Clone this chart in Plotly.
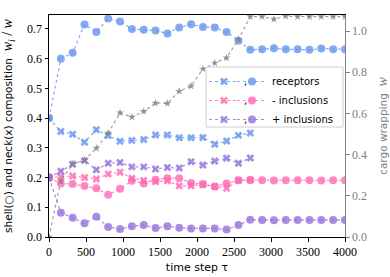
import plotly.graph_objects as go

# time steps
tau = [0, 160, 320, 480, 640, 800, 960, 1120, 1280, 1440, 1600, 1760, 1920,
       2080, 2240, 2400, 2560, 2720, 2880, 3040, 3200, 3360, 3520, 3680, 3840, 4000]
tau_neck = tau[:18]

# shell composition (circles)
rec_shell = [0.40, 0.60, 0.62, 0.715, 0.69, 0.735, 0.725, 0.70, 0.697, 0.695, 0.685, 0.705, 0.716,
             0.707, 0.705, 0.69, 0.66, 0.63, 0.632, 0.635, 0.632, 0.632, 0.63, 0.634, 0.632, 0.632]
minus_shell = [0.20, 0.18, 0.178, 0.172, 0.164, 0.142, 0.162, 0.189, 0.18, 0.193, 0.198, 0.198, 0.182,
               0.178, 0.170, 0.18, 0.191, 0.192, 0.191, 0.190, 0.191, 0.191, 0.191, 0.190, 0.191, 0.191]
plus_shell = [0.20, 0.082, 0.065, 0.046, 0.068, 0.034, 0.027, 0.036, 0.04, 0.030, 0.036, 0.031, 0.029,
              0.029, 0.029, 0.025, 0.04, 0.058, 0.057, 0.056, 0.057, 0.057, 0.057, 0.057, 0.057, 0.057]

# neck composition (crosses)
rec_neck = [0.40, 0.355, 0.346, 0.319, 0.361, 0.341, 0.322, 0.325, 0.328, 0.343, 0.343, 0.334, 0.334,
            0.335, 0.312, 0.323, 0.342, 0.350]
minus_neck = [0.20, 0.203, 0.205, 0.200, 0.195, 0.212, 0.218, 0.198, 0.19, 0.186, 0.189, 0.172, 0.172,
              0.176, 0.170, 0.164, 0.190, 0.192]
plus_neck = [0.20, 0.221, 0.245, 0.257, 0.226, 0.248, 0.251, 0.236, 0.236, 0.229, 0.234, 0.232, 0.253,
             0.242, 0.256, 0.265, 0.248, 0.266]

# cargo wrapping
wrap = [0.0, 0.273, 0.355, 0.374, 0.431, 0.505, 0.603, 0.582, 0.61, 0.65, 0.649, 0.708, 0.733,
        0.816, 0.845, 0.87, 0.96, 1.07, 1.07, 1.058, 1.072, 1.07, 1.07, 1.07, 1.07, 1.07]

names = ["receptors", "- inclusions", "+ inclusions"]
colors = ["rgba(100,149,237,0.8)", "rgba(255,105,180,0.8)", "rgba(147,112,219,0.8)"]
shells = [rec_shell, minus_shell, plus_shell]
necks = [rec_neck, minus_neck, plus_neck]

fig = go.Figure()

fig.add_trace(go.Scatter(
    x=tau, y=wrap, mode="lines+markers", yaxis="y2", showlegend=False,
    line=dict(color="rgba(128,128,128,0.75)", width=1.2, dash="dot"),
    marker=dict(symbol="star", size=6, color="rgba(128,128,128,0.8)", line=dict(width=0)),
))
for nm, c, nk in zip(names, colors, necks):
    fig.add_trace(go.Scatter(
        x=tau_neck, y=nk, mode="lines+markers", name=",", legend="legend",
        line=dict(color=c, width=1.2, dash="dot"),
        marker=dict(symbol="x", size=7, color=c, line=dict(width=0)),
    ))
for nm, c, sh in zip(names, colors, shells):
    fig.add_trace(go.Scatter(
        x=tau, y=sh, mode="lines+markers", name=nm, legend="legend2",
        line=dict(color=c, width=1.2, dash="dot"),
        marker=dict(symbol="circle", size=8, color=c, line=dict(width=0)),
    ))

serif = "Liberation Serif"
tickfont = dict(family=serif, size=12, color="black")
legfont = dict(family="DejaVu Sans", size=10, color="black")

PL, PR, PT, PB = 49, 45, 15, 40
pw = 390 - PL - PR
ph = 277 - PT - PB

def px(x):
    return (x - PL) / pw

def py(y):
    return (277 - PB - y) / ph

fig.update_layout(
    width=390, height=277,
    margin=dict(l=PL, r=PR, t=PT, b=PB),
    paper_bgcolor="white", plot_bgcolor="white",
    xaxis=dict(
        range=[0, 4000], tickmode="array", tickvals=[0, 500, 1000, 1500, 2000, 2500, 3000, 3500, 4000],
        ticks="outside", ticklen=3.5, tickcolor="black", showgrid=False, zeroline=False,
        showline=True, linecolor="black", linewidth=1, mirror=True, automargin=False,
        tickfont=tickfont,
        title=dict(text="time step τ", font=dict(family="DejaVu Sans", size=11, color="black"),
                   standoff=5),
    ),
    yaxis=dict(
        range=[0, 0.747], dtick=0.1, tickformat=".1f", automargin=False,
        ticks="outside", ticklen=3.5, tickcolor="black", showgrid=False, zeroline=False,
        showline=True, linecolor="black", linewidth=1,
        tickfont=tickfont,
        title=dict(text="shell(○) and neck(x) composition  "
                        "<span style='font-family:Liberation Serif;font-size:14px'><i>w<sub>i</sub></i> / <i>w</i></span>",
                   font=dict(family="DejaVu Sans", size=10.5, color="black")),
    ),
    yaxis2=dict(
        overlaying="y", side="right", range=[0, 1.078], dtick=0.2, tickformat=".1f", automargin=False,
        ticks="outside", ticklen=3.5, tickcolor="gray", showgrid=False, zeroline=False,
        showline=True, linecolor="gray", linewidth=1,
        tickfont=dict(family=serif, size=12, color="gray"),
        title=dict(text="cargo wrapping  <span style='font-family:Liberation Serif;font-size:14px'><i>w</i></span>",
                   font=dict(family="DejaVu Sans", size=10.5, color="gray")),
    ),
    legend=dict(x=px(204), y=py(67), xanchor="left", yanchor="top", bgcolor="rgba(0,0,0,0)",
                borderwidth=0, font=legfont, itemwidth=30, tracegroupgap=0),
    legend2=dict(x=px(232), y=py(67), xanchor="left", yanchor="top", bgcolor="rgba(0,0,0,0)",
                 borderwidth=0, font=legfont, itemwidth=30, tracegroupgap=0),
    shapes=[dict(type="rect", xref="paper", yref="paper", x0=px(206), x1=px(343), y0=py(127), y1=py(67),
                 fillcolor="rgba(255,255,255,0.8)", line=dict(color="#d0d0d0", width=1), layer="above")],
)

fig.write_html("out.html", config={"displayModeBar": False},
               post_script="document.body.style.margin='0';document.body.style.padding='0';")
